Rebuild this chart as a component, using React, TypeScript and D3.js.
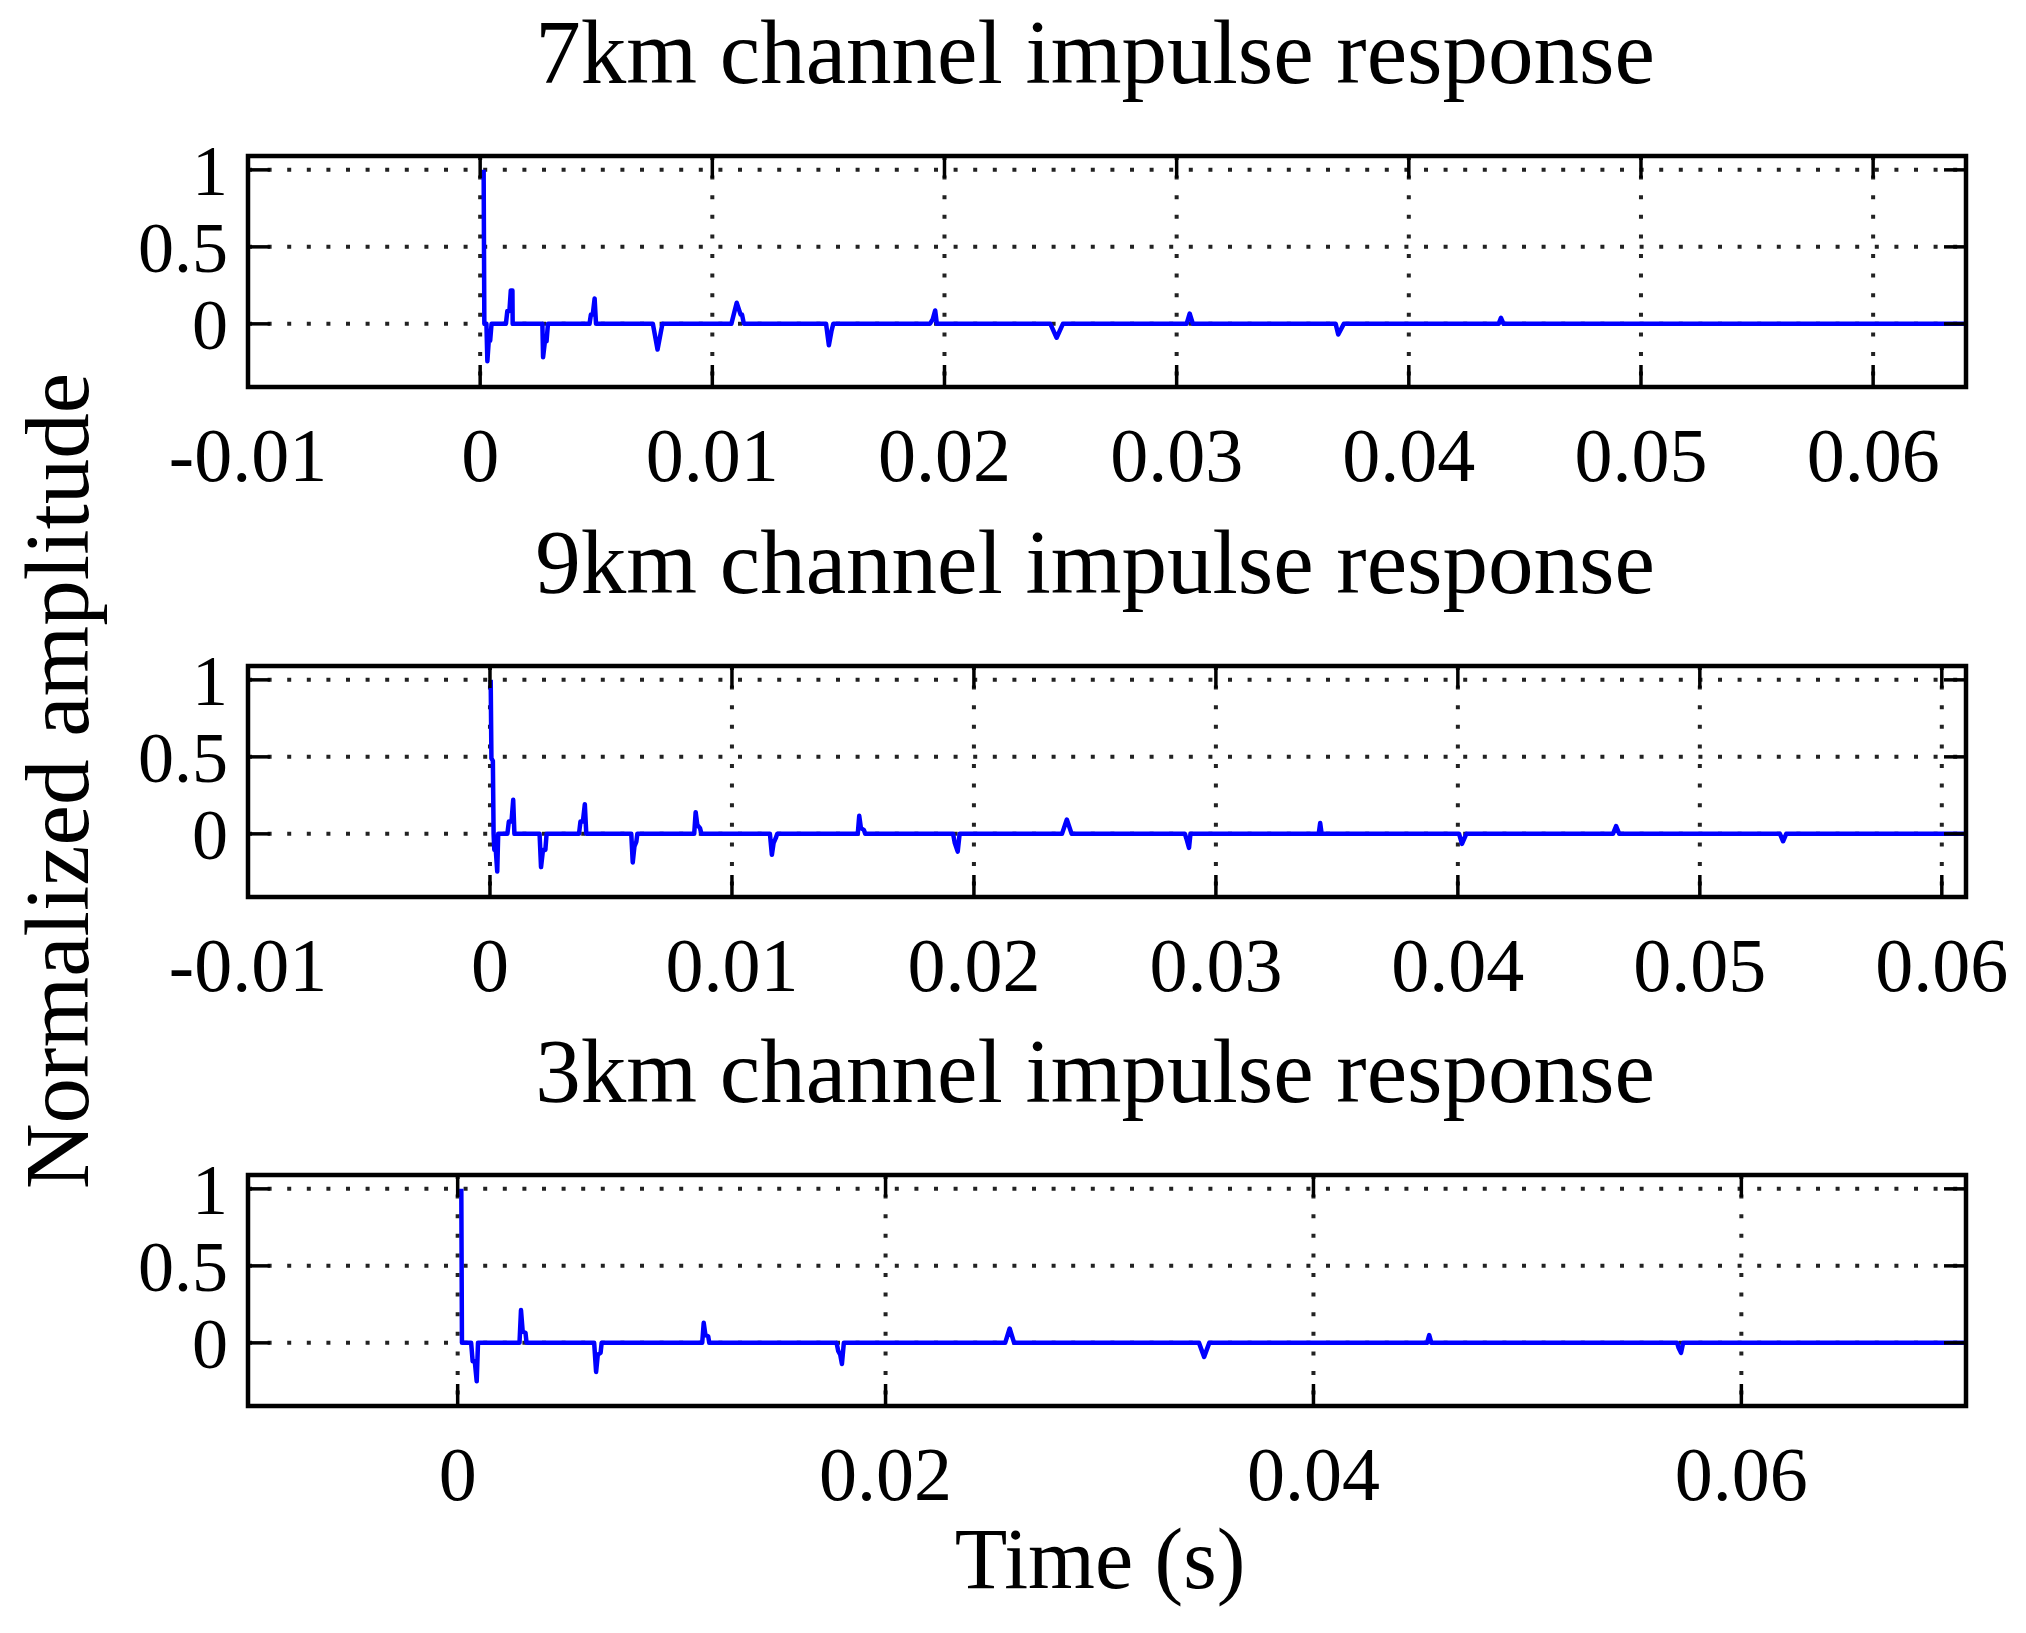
import { useEffect, useRef } from 'react';
import * as d3 from 'd3';

type Pt = [number, number];

const titles = [
  '7km channel impulse response',
  '9km channel impulse response',
  '3km channel impulse response',
];

// impulse response vertices (time s, normalized amplitude)
const response7km: Pt[] = [
  [0.00015, 1.0], [0.00018, 0], [0.00027, 0], [0.00031, -0.243], [0.00037, -0.11],
  [0.00043, -0.11], [0.00049, 0], [0.00111, 0], [0.00117, 0.083], [0.00126, 0.083],
  [0.00132, 0.217], [0.00139, 0.217], [0.0014, 0], [0.00268, 0], [0.00271, -0.217],
  [0.00279, -0.113], [0.00286, -0.113], [0.00292, 0], [0.00471, 0], [0.00477, 0.06],
  [0.00485, 0.06], [0.00493, 0.165], [0.00499, 0], [0.00744, 0], [0.00764, -0.167],
  [0.00785, 0], [0.01082, 0], [0.01105, 0.137], [0.01122, 0.06], [0.01128, 0.06],
  [0.01136, 0], [0.0149, 0], [0.01502, -0.139], [0.01513, -0.048], [0.01521, 0],
  [0.01937, 0], [0.01949, 0.028], [0.0196, 0.087], [0.01967, 0], [0.02456, 0],
  [0.02483, -0.09], [0.0251, 0], [0.03043, 0], [0.03056, 0.067], [0.0307, 0],
  [0.03685, 0], [0.03696, -0.069], [0.0372, 0], [0.04387, 0], [0.04397, 0.039],
  [0.04408, 0], [0.064, 0],
];

const response9km: Pt[] = [
  [0.00003, 1.0], [0.00006, 0.49], [0.00012, 0.474], [0.00015, 0], [0.00018, -0.104],
  [0.00024, -0.104], [0.0003, -0.245], [0.00034, 0], [0.00072, 0], [0.00078, 0.08],
  [0.00089, 0.08], [0.00096, 0.221], [0.00101, 0], [0.00205, 0], [0.00211, -0.216],
  [0.00219, -0.104], [0.00229, -0.104], [0.00234, 0], [0.00368, 0], [0.00374, 0.08],
  [0.00384, 0.08], [0.00392, 0.193], [0.00398, 0], [0.00584, 0], [0.0059, -0.186],
  [0.00597, -0.082], [0.00605, -0.05], [0.00609, 0], [0.00844, 0], [0.0085, 0.141],
  [0.00857, 0.058], [0.00868, 0.037], [0.00874, 0], [0.01157, 0], [0.01165, -0.136],
  [0.01172, -0.06], [0.01181, -0.028], [0.01187, 0], [0.0152, 0], [0.01526, 0.117],
  [0.01533, 0.037], [0.01545, 0.026], [0.01551, 0], [0.01914, 0], [0.01921, -0.06],
  [0.01933, -0.115], [0.01941, 0], [0.02364, 0], [0.02384, 0.093], [0.02404, 0],
  [0.02872, 0], [0.02878, -0.03], [0.02889, -0.091], [0.02895, 0], [0.03425, 0],
  [0.03431, 0.071], [0.03437, 0], [0.04005, 0], [0.04017, -0.065], [0.04035, 0],
  [0.04641, 0], [0.04654, 0.05], [0.04667, 0], [0.05331, 0], [0.05344, -0.048],
  [0.05357, 0], [0.061, 0],
];

const response3km: Pt[] = [
  [0.00017, 1.0], [0.0002, 0], [0.00063, 0], [0.0007, -0.12], [0.0008, -0.12],
  [0.00089, -0.25], [0.00095, 0], [0.00289, 0], [0.00296, 0.213], [0.00304, 0.072],
  [0.00317, 0.065], [0.00322, 0], [0.00638, 0], [0.00647, -0.189], [0.00655, -0.076],
  [0.00668, -0.065], [0.00673, 0], [0.01143, 0], [0.0115, 0.13], [0.01158, 0.05],
  [0.01171, 0.043], [0.01176, 0], [0.01771, 0], [0.01779, -0.054], [0.01788, -0.076],
  [0.01796, -0.137], [0.01805, 0], [0.02559, 0], [0.0258, 0.093], [0.02601, 0],
  [0.03465, 0], [0.03489, -0.091], [0.03513, 0], [0.04531, 0], [0.04541, 0.05],
  [0.04551, 0], [0.057, 0], [0.05706, -0.03], [0.05718, -0.065], [0.05728, 0],
  [0.0705, 0],
];

const xDomain7km: [number, number] = [-0.01, 0.064];
const xDomain9km: [number, number] = [-0.01, 0.061];
const xDomain3km: [number, number] = [-0.0098, 0.0705];
const yDomain: [number, number] = [-0.41, 1.09];

const xTicksFine = [-0.01, 0, 0.01, 0.02, 0.03, 0.04, 0.05, 0.06];
const xTickLabelsFine = ['-0.01', '0', '0.01', '0.02', '0.03', '0.04', '0.05', '0.06'];
const xTicksCoarse = [0, 0.02, 0.04, 0.06];
const xTickLabelsCoarse = ['0', '0.02', '0.04', '0.06'];
const yTicks = [0, 0.5, 1];
const yTickLabels = ['0', '0.5', '1'];

const W = 2026;
const H = 1633;
const FONT = '"Liberation Serif", "DejaVu Serif", serif';

export default function App() {
  const ref = useRef<SVGSVGElement | null>(null);

  useEffect(() => {
    if (!ref.current) return;
    document.body.style.margin = '0';

    const svg = d3.select(ref.current).attr('width', W).attr('height', H);
    svg.selectAll('*').remove();
    svg.append('rect').attr('width', W).attr('height', H).attr('fill', '#fff');

    const left = 248;
    const right = 1966;
    const plotH = 231;

    const panels = [
      { title: titles[0], data: response7km, dom: xDomain7km, ticks: xTicksFine, labels: xTickLabelsFine, top: 156 },
      { title: titles[1], data: response9km, dom: xDomain9km, ticks: xTicksFine, labels: xTickLabelsFine, top: 666 },
      { title: titles[2], data: response3km, dom: xDomain3km, ticks: xTicksCoarse, labels: xTickLabelsCoarse, top: 1175 },
    ];

    panels.forEach((p, i) => {
      const x = d3.scaleLinear().domain(p.dom).range([left, right]);
      const y = d3.scaleLinear().domain(yDomain).range([p.top + plotH, p.top]);
      const g = svg.append('g');

      // title
      g.append('text')
        .attr('x', 1095)
        .attr('y', p.top - 73)
        .attr('text-anchor', 'middle')
        .attr('font-family', FONT)
        .attr('font-size', 91)
        .text(p.title);

      // dotted grid
      const grid = g.append('g').attr('stroke', '#222').attr('stroke-width', 4)
        .attr('stroke-dasharray', '4 15.6');
      p.ticks.forEach((t) => {
        if (t <= p.dom[0] + 1e-9) return;
        grid.append('line').attr('x1', x(t)).attr('x2', x(t))
          .attr('y1', p.top).attr('y2', p.top + plotH);
      });
      yTicks.forEach((v) => {
        grid.append('line').attr('x1', left).attr('x2', right)
          .attr('y1', y(v)).attr('y2', y(v));
      });

      // data line
      const clipId = `clip${i}`;
      g.append('clipPath').attr('id', clipId)
        .append('rect').attr('x', left).attr('y', p.top)
        .attr('width', right - left).attr('height', plotH);

      const line = d3.line<Pt>().x((d) => x(d[0])).y((d) => y(d[1]));
      g.append('path')
        .datum(p.data)
        .attr('clip-path', `url(#${clipId})`)
        .attr('d', line)
        .attr('fill', 'none')
        .attr('stroke', '#0000ff')
        .attr('stroke-width', 4.5)
        .attr('stroke-linejoin', 'round');

      // ticks, inward on all four sides
      const tk = g.append('g').attr('stroke', '#000').attr('stroke-width', 3.5);
      p.ticks.forEach((t) => {
        const xx = x(t);
        tk.append('line').attr('x1', xx).attr('x2', xx).attr('y1', p.top + plotH).attr('y2', p.top + plotH - 22);
        tk.append('line').attr('x1', xx).attr('x2', xx).attr('y1', p.top).attr('y2', p.top + 22);
      });
      yTicks.forEach((v) => {
        const yy = y(v);
        tk.append('line').attr('x1', left).attr('x2', left + 22).attr('y1', yy).attr('y2', yy);
        tk.append('line').attr('x1', right).attr('x2', right - 22).attr('y1', yy).attr('y2', yy);
      });

      // box
      g.append('rect')
        .attr('x', left).attr('y', p.top)
        .attr('width', right - left).attr('height', plotH)
        .attr('fill', 'none').attr('stroke', '#000').attr('stroke-width', 4.5);

      // tick labels
      p.ticks.forEach((t, k) => {
        g.append('text')
          .attr('x', x(t))
          .attr('y', p.top + plotH + 94)
          .attr('text-anchor', 'middle')
          .attr('font-family', FONT)
          .attr('font-size', 76)
          .text(p.labels[k]);
      });
      yTicks.forEach((v, k) => {
        g.append('text')
          .attr('x', 228)
          .attr('y', y(v) + 25)
          .attr('text-anchor', 'end')
          .attr('font-family', FONT)
          .attr('font-size', 72)
          .text(yTickLabels[k]);
      });
    });

    svg.append('text')
      .attr('x', 1100)
      .attr('y', 1588)
      .attr('text-anchor', 'middle')
      .attr('font-family', FONT)
      .attr('font-size', 86)
      .text('Time (s)');

    svg.append('text')
      .attr('transform', 'translate(88,781) rotate(-90)')
      .attr('text-anchor', 'middle')
      .attr('font-family', FONT)
      .attr('font-size', 91)
      .text('Normalized amplitude');
  }, []);

  return <svg ref={ref} style={{ display: 'block' }}></svg>;
}
